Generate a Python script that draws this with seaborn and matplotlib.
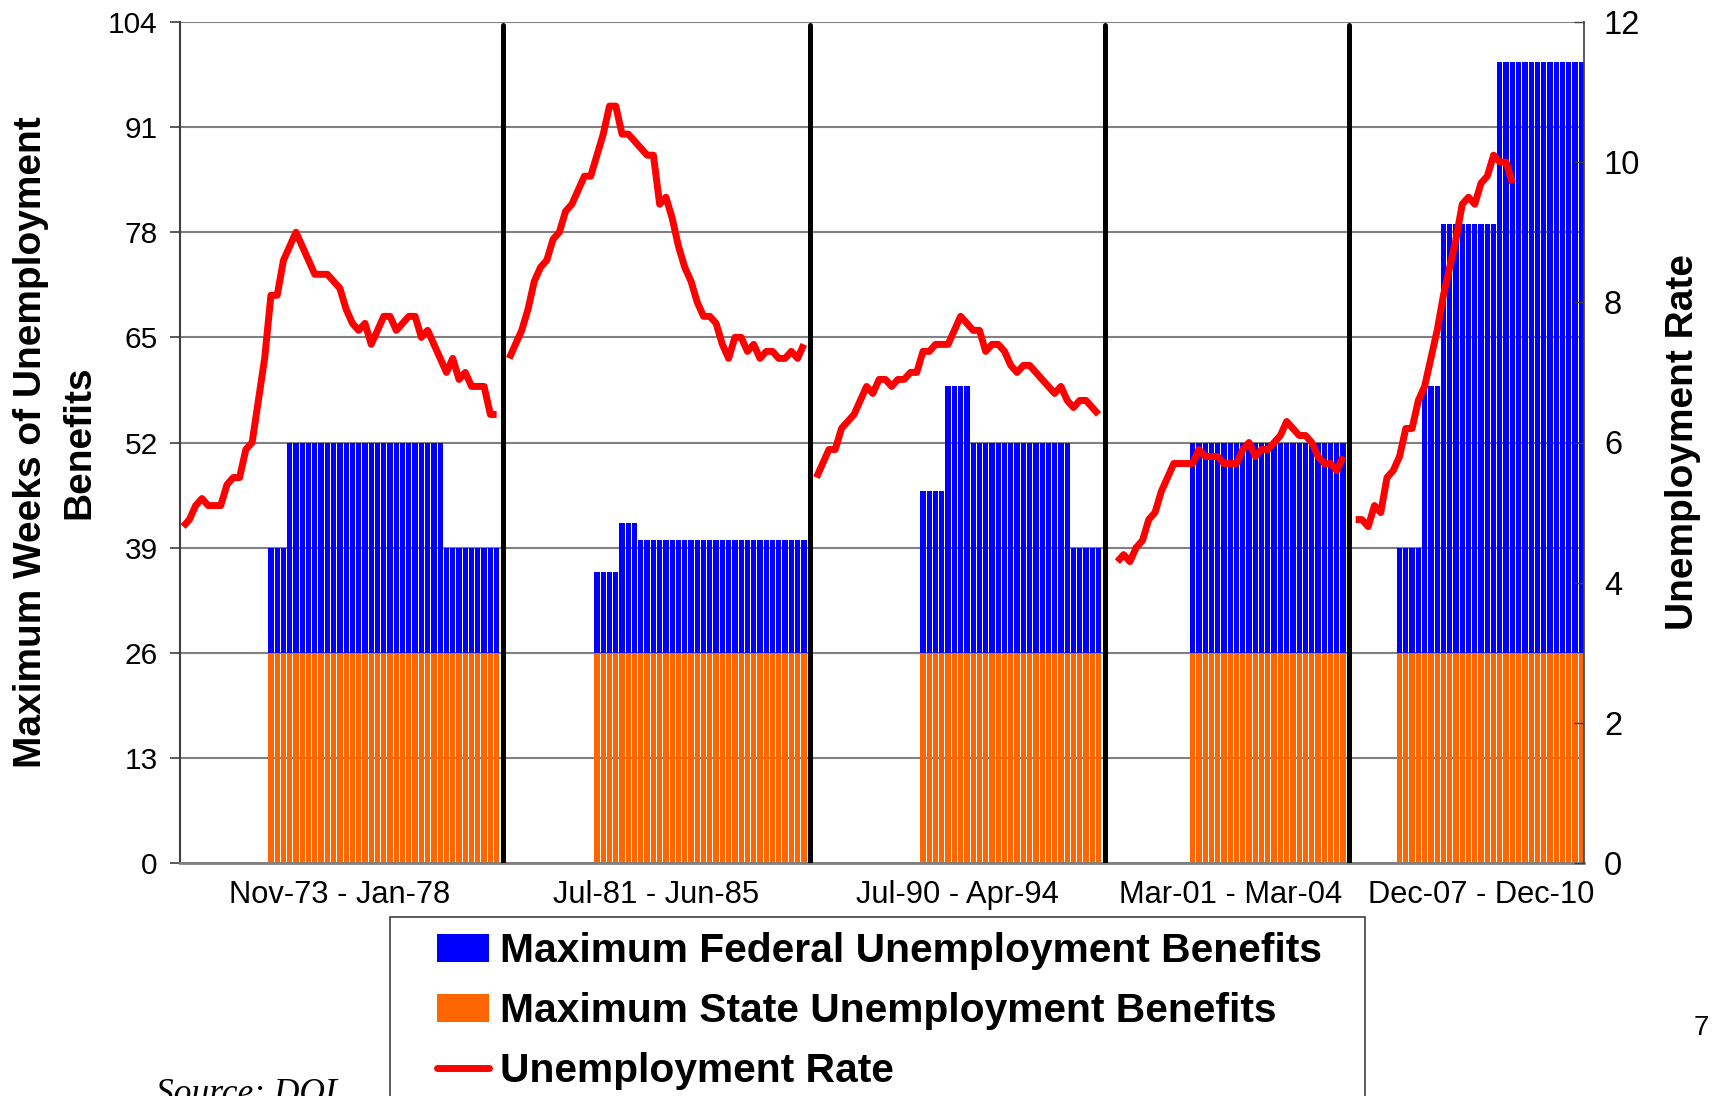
import numpy as np
import pandas as pd
import matplotlib
matplotlib.use("Agg")
import matplotlib.pyplot as plt
import seaborn as sns
from matplotlib.patches import Patch, Rectangle
from matplotlib.lines import Line2D

# ---------------------------------------------------------------- data
episode_labels = ["Nov-73 - Jan-78", "Jul-81 - Jun-85", "Jul-90 - Apr-94",
                  "Mar-01 - Mar-04", "Dec-07 - Dec-10"]
episode_months = [51, 48, 46, 37, 37]

# monthly unemployment rate (%), from the first month of each episode
rate_1973 = [4.8, 4.9,
             5.1, 5.2, 5.1, 5.1, 5.1, 5.4, 5.5, 5.5, 5.9, 6.0, 6.6, 7.2,
             8.1, 8.1, 8.6, 8.8, 9.0, 8.8, 8.6, 8.4, 8.4, 8.4, 8.3, 8.2,
             7.9, 7.7, 7.6, 7.7, 7.4, 7.6, 7.8, 7.8, 7.6, 7.7, 7.8, 7.8,
             7.5, 7.6, 7.4, 7.2, 7.0, 7.2, 6.9, 7.0, 6.8, 6.8, 6.8, 6.4,
             6.4]
rate_1981 = [7.2, 7.4, 7.6, 7.9, 8.3, 8.5,
             8.6, 8.9, 9.0, 9.3, 9.4, 9.6, 9.8, 9.8, 10.1, 10.4, 10.8, 10.8,
             10.4, 10.4, 10.3, 10.2, 10.1, 10.1, 9.4, 9.5, 9.2, 8.8, 8.5, 8.3,
             8.0, 7.8, 7.8, 7.7, 7.4, 7.2, 7.5, 7.5, 7.3, 7.4, 7.2, 7.3,
             7.3, 7.2, 7.2, 7.3, 7.2, 7.4]
rate_1990 = [5.5, 5.7, 5.9, 5.9, 6.2, 6.3,
             6.4, 6.6, 6.8, 6.7, 6.9, 6.9, 6.8, 6.9, 6.9, 7.0, 7.0, 7.3,
             7.3, 7.4, 7.4, 7.4, 7.6, 7.8, 7.7, 7.6, 7.6, 7.3, 7.4, 7.4,
             7.3, 7.1, 7.0, 7.1, 7.1, 7.0, 6.9, 6.8, 6.7, 6.8, 6.6, 6.5,
             6.6, 6.6, 6.5, 6.4]
rate_2001 = [4.3, 4.4, 4.3, 4.5, 4.6, 4.9, 5.0, 5.3, 5.5, 5.7,
             5.7, 5.7, 5.7, 5.9, 5.8, 5.8, 5.8, 5.7, 5.7, 5.7, 5.9, 6.0,
             5.8, 5.9, 5.9, 6.0, 6.1, 6.3, 6.2, 6.1, 6.1, 6.0, 5.8, 5.7,
             5.7, 5.6, 5.8]
rate_2007 = [4.9,
             4.9, 4.8, 5.1, 5.0, 5.5, 5.6, 5.8, 6.2, 6.2, 6.6, 6.8, 7.2,
             7.6, 8.1, 8.5, 8.9, 9.4, 9.5, 9.4, 9.7, 9.8, 10.1, 10.0, 10.0,
             9.7]
episode_rates = [rate_1973, rate_1981, rate_1990, rate_2001, rate_2007]

# maximum weeks of benefits (state + federal) as (weeks, number of months);
# 0 means only regular state benefits, which are not shown
weeks_1973 = [(0, 14), (39, 3), (52, 25), (39, 9)]
weeks_1981 = [(0, 14), (36, 4), (42, 3), (40, 27)]
weeks_1990 = [(0, 17), (46, 4), (59, 4), (52, 16), (39, 5)]
weeks_2001 = [(0, 12), (52, 25)]
weeks_2007 = [(0, 7), (39, 4), (59, 3), (79, 9), (99, 14)]
episode_weeks = [weeks_1973, weeks_1981, weeks_1990, weeks_2001, weeks_2007]
state_weeks = 26

# ---------------------------------------------------------------- layout of the month axis
lead_blank = [0, 1, 1, 2, 1]      # empty month slots before each episode
label_offset = [0.0, 0.0, 0.0, 0.0, 2.0]

bar_rows, line_rows, separators, label_pos = [], [], [], []
pos = 0
for k, n in enumerate(episode_months):
    if k > 0:
        separators.append(pos)
    pos += lead_blank[k]
    m = 0
    for w, cnt in episode_weeks[k]:
        for _ in range(cnt):
            if w > 0:
                bar_rows.append({"slot": pos + m, "total": w, "state": state_weeks})
            m += 1
    for j, r in enumerate(episode_rates[k]):
        line_rows.append({"slot": pos + j, "rate": r, "episode": k})
    label_pos.append(pos + (n - 1) / 2 + label_offset[k])
    pos += n
n_slots = pos

bars = pd.DataFrame(bar_rows)
line = pd.DataFrame(line_rows)

# ---------------------------------------------------------------- figure
sns.set_theme(style="white")
plt.rcParams["font.family"] = ["Liberation Sans", "DejaVu Sans"]
plt.rcParams["text.color"] = "black"
plt.rcParams["axes.labelcolor"] = "black"

W, H = 1715, 1096
fig = plt.figure(figsize=(W / 100, H / 100), dpi=100)
ax_l, ax_r, ax_b, ax_t = 180, 1584.5, 863, 22
ax = fig.add_axes([ax_l / W, 1 - ax_b / H, (ax_r - ax_l) / W, (ax_b - ax_t) / H])

BLUE, ORANGE, RED = "#0000FF", "#FF6600", "#FF0000"
GRID = "#808080"
LINE_W = 5.0

# federal + state (total) bars, then state bars on top of them
sns.barplot(data=bars, x="slot", y="total", native_scale=True, color=BLUE,
            saturation=1, width=0.84, errorbar=None, linewidth=0, ax=ax, zorder=2)
sns.barplot(data=bars, x="slot", y="state", native_scale=True, color=ORANGE,
            saturation=1, width=0.84, errorbar=None, linewidth=0, ax=ax, zorder=2)

ax.set_xlim(-0.5, n_slots - 0.5)
ax.set_ylim(0, 104)
ax.set_yticks(np.arange(0, 105, 13))
ax.yaxis.grid(True, color=GRID, lw=1.5, zorder=0)
ax.set_axisbelow(True)
ax.set_xticks(label_pos)
ax.set_xticklabels(episode_labels)
ax.tick_params(axis="x", length=0, pad=12, labelsize=22.2, labelcolor="black")
ax.tick_params(axis="y", direction="out", length=7, width=1.2, color="#404040",
               pad=9, labelsize=21.5, labelcolor="black")
ax.set_xlabel("")
ax.set_ylabel("Maximum Weeks of Unemployment\nBenefits", fontsize=28,
              fontweight="bold", linespacing=1.42, color="black", va="center")
ax.yaxis.set_label_coords((55 - ax_l) / (ax_r - ax_l), 0.5)

for s in ["top", "right"]:
    ax.spines[s].set_visible(False)
ax.spines["left"].set_color("#404040")
ax.spines["left"].set_linewidth(1.5)
ax.spines["bottom"].set_color(GRID)
ax.spines["bottom"].set_linewidth(2)

# black separators between the episodes
for sx in separators:
    ax.axvline(sx, ymin=0, ymax=0.997, color="black", lw=3.6, zorder=4)

# unemployment rate on the right axis
ax2 = ax.twinx()
sns.lineplot(data=line, x="slot", y="rate", units="episode", estimator=None,
             color=RED, lw=LINE_W, legend=False, ax=ax2, zorder=5,
             solid_joinstyle="round", solid_capstyle="butt")
ax2.set_ylim(0, 12)
ax2.set_yticks(np.arange(0, 13, 2))
ax2.tick_params(axis="y", direction="in", length=7, width=1, color="#404040",
                pad=14, labelsize=23.5, labelcolor="black")
ax2.set_xlim(-0.5, n_slots - 0.5)
ax2.set_xlabel("")
ax2.set_ylabel("Unemployment Rate", fontsize=28, fontweight="bold", rotation=90,
               color="black", va="center")
ax2.yaxis.set_label_coords((1683 - ax_l) / (ax_r - ax_l), 0.5)
for s in ["top", "left", "bottom"]:
    ax2.spines[s].set_visible(False)
ax2.spines["right"].set_color("#404040")
ax2.spines["right"].set_linewidth(1.2)
ax2.grid(False)

# legend in a framed box below the chart
handles = [Patch(facecolor=BLUE, edgecolor="none"),
           Patch(facecolor=ORANGE, edgecolor="none"),
           Line2D([], [], color=RED, lw=LINE_W)]
labels = ["Maximum Federal Unemployment Benefits",
          "Maximum State Unemployment Benefits",
          "Unemployment Rate"]
fig.legend(handles, labels, loc="upper left",
           bbox_to_anchor=(437.5 / W, 1 - 932.5 / H), frameon=False,
           prop={"size": 29.3, "weight": "bold"}, labelcolor="black",
           handlelength=1.27, handleheight=0.67, handletextpad=0.27,
           labelspacing=0.53, borderpad=0, borderaxespad=0)
fig.patches.append(Rectangle((390.5 / W, -0.05), (1365 - 390.5) / W,
                             (H - 916.6) / H + 0.05, transform=fig.transFigure,
                             facecolor="none", edgecolor="#404040", lw=1.2))

fig.text(156 / W, 1 - 1078 / H, "Source: DOL", family="Liberation Serif",
         style="italic", fontsize=25.5, va="top", ha="left", color="black")
fig.text(1701 / W, 1 - 1028 / H, "7", fontsize=20, ha="center", va="center",
         color="black")

fig.savefig("out.png", dpi=100)
